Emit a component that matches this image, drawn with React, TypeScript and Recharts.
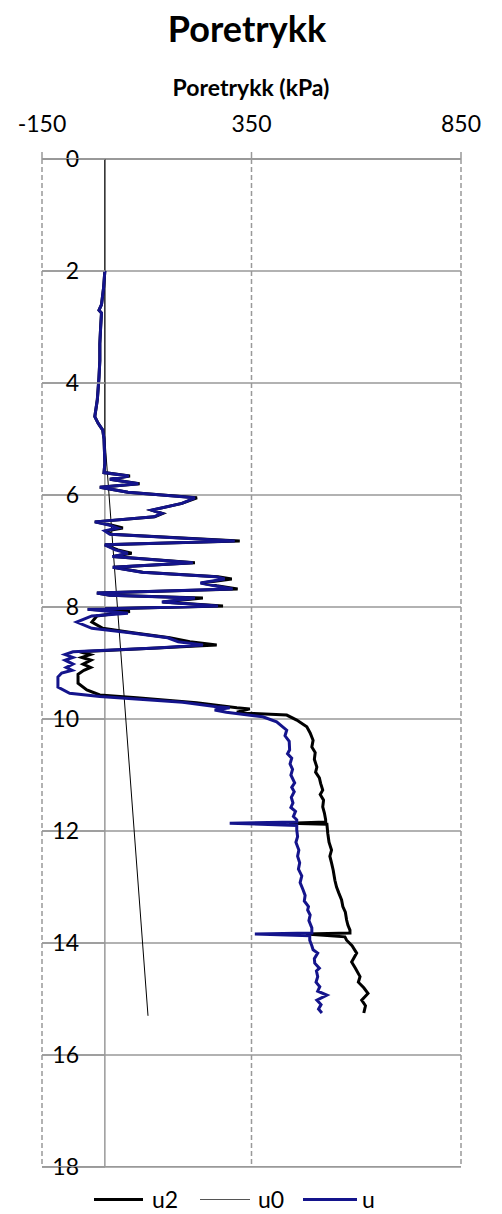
import { CartesianGrid, ReferenceArea, ReferenceLine, Scatter, ScatterChart, XAxis, YAxis } from "recharts";

// [depth (m), pressure (kPa)]
const depthTicks = [0, 2, 4, 6, 8, 10, 12, 14, 16, 18];
const pressureTicks = [-150, 350, 850];

const u0Points: [number, number][] = [
  [0, 0],
  [5.0, 0],
  [15.3, 103],
];

const u2Points: [number, number][] = [
  [2.0, 0], [2.3, -3], [2.6, -8], [2.7, -14], [2.75, -8], [3.0, -10], [3.3, -12], [3.6, -12],
  [3.9, -14], [4.1, -16], [4.3, -18], [4.45, -21], [4.6, -24], [4.72, -16], [4.84, -5], [5.0, -2],
  [5.2, -1], [5.43, 0], [5.6, -2], [5.66, 60], [5.72, 12], [5.8, 83], [5.86, -12], [5.95, 55],
  [6.05, 220], [6.15, 184], [6.27, 112], [6.33, 138], [6.39, 119], [6.48, -24], [6.54, 17], [6.59, 43],
  [6.64, 5], [6.7, 15], [6.82, 322], [6.89, 0], [6.98, 31], [7.04, 64], [7.1, 19], [7.21, 215],
  [7.29, 19], [7.38, 91], [7.46, 270], [7.5, 303], [7.57, 231], [7.62, 267], [7.68, 317], [7.75, -19],
  [7.79, 12], [7.84, 234], [7.91, 138], [7.98, 282], [8.04, -41], [8.08, 60], [8.16, -19], [8.27, -31],
  [8.38, -5], [8.46, 67], [8.55, 155], [8.62, 203], [8.68, 267], [8.73, 124], [8.8, -60], [8.85, -35],
  [8.9, -55], [8.95, -33], [9.02, -52], [9.08, -34], [9.13, -50], [9.2, -64], [9.36, -64], [9.48, -43],
  [9.57, -12], [9.62, 76], [9.71, 219], [9.8, 315], [9.82, 346], [9.88, 315], [9.9, 353], [9.93, 434],
  [10.02, 458], [10.14, 482], [10.25, 490], [10.38, 497], [10.5, 494], [10.6, 502], [10.72, 500],
  [10.86, 506], [10.95, 503], [11.05, 512], [11.15, 515], [11.27, 520], [11.35, 514], [11.45, 522],
  [11.57, 520], [11.68, 524], [11.8, 527], [11.84, 527], [11.86, 440], [11.88, 530], [12.04, 532],
  [12.2, 535], [12.34, 541], [12.45, 537], [12.57, 541], [12.7, 545], [12.88, 549], [13.0, 553],
  [13.1, 558], [13.23, 565], [13.35, 568], [13.45, 574], [13.59, 577], [13.68, 580], [13.77, 585],
  [13.82, 585], [13.84, 480], [13.89, 573], [13.95, 577], [14.05, 590], [14.18, 601], [14.34, 589],
  [14.45, 598], [14.6, 609], [14.7, 605], [14.8, 618], [14.9, 628], [15.02, 613], [15.12, 622],
  [15.25, 618],
];

const uPoints: [number, number][] = [
  [2.0, 0], [2.3, -3], [2.6, -8], [2.7, -14], [2.75, -8], [3.0, -10], [3.3, -12], [3.6, -12],
  [3.9, -14], [4.1, -16], [4.3, -18], [4.45, -21], [4.6, -24], [4.72, -16], [4.84, -5], [5.0, -2],
  [5.2, -1], [5.43, 0], [5.6, -2], [5.66, 57], [5.72, 12], [5.8, 80], [5.86, -12], [5.95, 55],
  [6.05, 215], [6.15, 184], [6.27, 112], [6.33, 136], [6.39, 117], [6.48, -24], [6.54, 12], [6.59, 30],
  [6.64, 0], [6.7, 12], [6.82, 310], [6.89, 0], [6.98, 25], [7.04, 55], [7.1, 18], [7.21, 210],
  [7.29, 19], [7.38, 88], [7.46, 265], [7.5, 286], [7.57, 228], [7.62, 262], [7.68, 305], [7.75, -19],
  [7.79, 12], [7.84, 215], [7.91, 136], [7.98, 270], [8.04, -41], [8.11, 55], [8.16, -31], [8.27, -67],
  [8.38, -31], [8.46, 60], [8.55, 150], [8.62, 175], [8.68, 234], [8.73, 124], [8.8, -76], [8.85, -95],
  [8.9, -76], [8.95, -95], [9.02, -76], [9.08, -92], [9.13, -78], [9.18, -103], [9.25, -112], [9.43, -112],
  [9.54, -84], [9.6, -12], [9.7, 186], [9.78, 267], [9.8, 298], [9.84, 262], [9.88, 290], [9.96, 377],
  [10.05, 410], [10.2, 434], [10.3, 430], [10.4, 440], [10.55, 441], [10.62, 436], [10.7, 446],
  [10.8, 442], [10.9, 448], [11.0, 444], [11.14, 453], [11.22, 446], [11.3, 452], [11.4, 445],
  [11.5, 449], [11.58, 444], [11.65, 455], [11.74, 450], [11.8, 458], [11.84, 458], [11.86, 298],
  [11.9, 458], [11.98, 458], [12.1, 460], [12.2, 456], [12.34, 463], [12.45, 460], [12.57, 465],
  [12.68, 462], [12.8, 470], [12.92, 466], [13.05, 473], [13.15, 478], [13.25, 476], [13.35, 486],
  [13.41, 484], [13.5, 490], [13.6, 487], [13.73, 494], [13.82, 494], [13.84, 358], [13.87, 489],
  [13.95, 489], [14.05, 494], [14.12, 497], [14.18, 508], [14.28, 500], [14.36, 501], [14.45, 512],
  [14.5, 505], [14.6, 508], [14.7, 504], [14.78, 513], [14.86, 508], [14.93, 530], [15.02, 506],
  [15.1, 516], [15.18, 510], [15.25, 518],
];

const toXY = (pts: [number, number][]) => pts.map(([d, p]) => ({ x: p, y: d }));

const gridColor = "#999999";
const font = "Lato, 'Open Sans', sans-serif";
const blue = "#14148c";

const NoDot = () => <g />;

const XTick = ({ x, payload }: any) => (
  <g>
    <line x1={x} x2={x} y1={152} y2={159} stroke={gridColor} strokeWidth={1.5} />
    <text x={x} y={132} textAnchor="middle" fontSize={23} fontFamily={font} fill="#000">
      {payload.value}
    </text>
  </g>
);

const YTick = ({ y, payload }: any) => (
  <g>
    <line x1={42} x2={105} y1={y} y2={y} stroke={gridColor} strokeWidth={1.5} />
    <text x={79} y={y + 8} textAnchor="end" fontSize={23} fontFamily={font} fill="#000">
      {payload.value}
    </text>
  </g>
);

// thin frame rules along the top and bottom of the plot area
const frameRule = (top: number) => ({
  position: "absolute" as const,
  left: 42,
  top,
  width: 419,
  height: 1,
  background: gridColor,
  pointerEvents: "none" as const,
});

export default function App() {
  return (
    <div style={{ position: "absolute", left: 0, top: 0, width: 502, height: 1214, background: "#fff", fontFamily: font }}>
      <div style={{ position: "absolute", left: 0, width: 494, top: 6, textAlign: "center", fontSize: 36, fontWeight: 700 }}>
        Poretrykk
      </div>
      <div style={{ position: "absolute", left: 0, width: 502, top: 73, textAlign: "center", fontSize: 23, fontWeight: 700 }}>
        Poretrykk (kPa)
      </div>
      <ScatterChart width={502} height={1214} margin={{ top: 119, right: 41, bottom: 47, left: 0 }}>
        <CartesianGrid vertical={false} stroke={gridColor} strokeWidth={1.5} />
        {pressureTicks.map((t) => (
          <ReferenceLine key={t} x={t} stroke={gridColor} strokeWidth={1.5} strokeDasharray="5 3" ifOverflow="visible" />
        ))}
        <ReferenceArea x1={-150} x2={850} y1={0} y2={0.02} fill={gridColor} fillOpacity={1} stroke="none" ifOverflow="visible" />
        <ReferenceArea x1={-150} x2={850} y1={17.98} y2={18} fill={gridColor} fillOpacity={1} stroke="none" ifOverflow="visible" />
        <ReferenceLine x={0} stroke={gridColor} strokeWidth={1.5} />
        <XAxis
          type="number"
          dataKey="x"
          orientation="top"
          domain={[-150, 850]}
          ticks={pressureTicks}
          height={40}
          stroke={gridColor}
          tickLine={false}
          tick={<XTick />}
        />
        <YAxis
          type="number"
          dataKey="y"
          reversed
          domain={[0, 18]}
          ticks={depthTicks}
          width={42}
          axisLine={false}
          tickLine={false}
          tick={<YTick />}
        />
        <Scatter data={toXY(u0Points)} line={{ stroke: "#000", strokeWidth: 1 }} shape={<NoDot />} isAnimationActive={false} />
        <Scatter data={toXY(u2Points)} line={{ stroke: "#000", strokeWidth: 3 }} shape={<NoDot />} isAnimationActive={false} />
        <Scatter data={toXY(uPoints)} line={{ stroke: blue, strokeWidth: 3 }} shape={<NoDot />} isAnimationActive={false} />
      </ScatterChart>
      <div style={frameRule(158)} />
      <div style={frameRule(1166)} />
      <div style={{ position: "absolute", top: 1184, left: 94, display: "flex", alignItems: "center", fontSize: 23, height: 30 }}>
        <span style={{ width: 49, height: 3, background: "#000", display: "inline-block" }} />
        <span style={{ marginLeft: 9, width: 48 }}>u2</span>
        <span style={{ width: 50, height: 1, background: "#555", display: "inline-block" }} />
        <span style={{ marginLeft: 8, width: 45 }}>u0</span>
        <span style={{ width: 54, height: 3, background: blue, display: "inline-block" }} />
        <span style={{ marginLeft: 5 }}>u</span>
      </div>
    </div>
  );
}
